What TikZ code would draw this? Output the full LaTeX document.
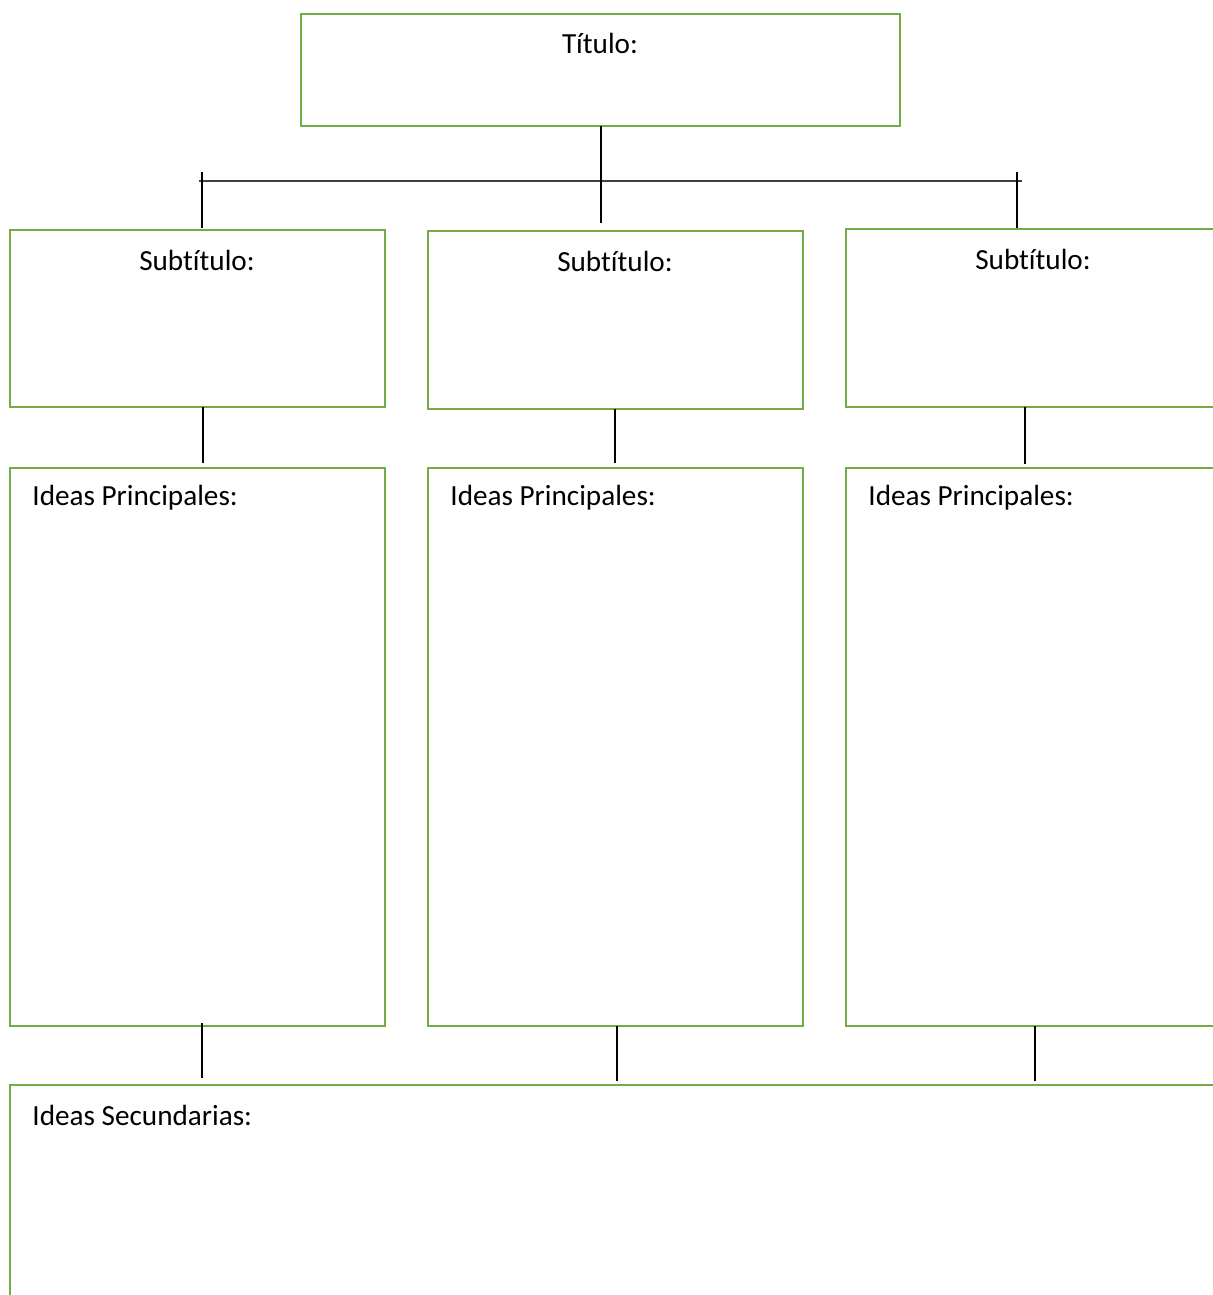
\documentclass[tikz,border=0pt]{standalone}
\usepackage{fontspec}
\setmainfont{Carlito}[Ligatures=NoCommon]
\definecolor{boxgreen}{HTML}{70AD47}
\definecolor{linegray}{HTML}{404040}
\begin{document}
\begin{tikzpicture}[x=0.5pt,y=-0.5pt,
  box/.style={draw=boxgreen, line width=1.1pt, anchor=north west, inner sep=0pt, outer sep=0pt},
  lbl/.style={inner sep=0pt, font=\fontsize{14.6}{17}\selectfont, text=black},
  link/.style={draw=black, line width=0.65pt},
  bar/.style={draw=linegray, line width=0.75pt}]
\useasboundingbox (0,0) rectangle (1213,1295);
\clip (0,0) rectangle (1213,1295);

% title
\node[box, minimum width=299.5pt, minimum height=56pt] (title) at (301,14) {};
\node[lbl] (titletext) at (600,43) {Título:};

% distribution bar
\coordinate (barL) at (199,181);
\coordinate (barR) at (1022,181);
\coordinate (tickL) at (202,172);
\coordinate (tickR) at (1017,172);
\coordinate (titleDrop) at (601,223);
\draw[bar] (barL) -- (barR);
\draw[link] (title.south -| titleDrop) -- (titleDrop);

% subtitle boxes
\node[box, minimum width=187.5pt, minimum height=88.5pt] (sub1) at (10,230) {};
\node[box, minimum width=187.5pt, minimum height=89pt] (sub2) at (428,231) {};
\node[box, minimum width=187.5pt, minimum height=89pt] (sub3) at (846,229) {};
\node[lbl] (sub1text) at (197,260) {Subtítulo:};
\node[lbl] (sub2text) at (615,261) {Subtítulo:};
\node[lbl] (sub3text) at (1033,259) {Subtítulo:};

\coordinate (tickLend) at (202,228);
\coordinate (tickRend) at (1017,228);
\draw[link] (tickL) -- (tickLend);
\draw[link] (tickR) -- (tickRend);

% main ideas boxes
\node[box, minimum width=187.5pt, minimum height=279pt] (main1) at (10,468) {};
\node[box, minimum width=187.5pt, minimum height=279pt] (main2) at (428,468) {};
\node[box, minimum width=187.5pt, minimum height=279pt] (main3) at (846,468) {};
\node[lbl, anchor=west] (main1text) at (32,498) {Ideas Principales:};
\node[lbl, anchor=west] (main2text) at (450,498) {Ideas Principales:};
\node[lbl, anchor=west] (main3text) at (868,498) {Ideas Principales:};

\coordinate (m1top) at (203,463);
\coordinate (m2top) at (615,463);
\coordinate (m3top) at (1025,464);
\draw[link] (sub1.south -| m1top) -- (m1top);
\draw[link] (sub2.south -| m2top) -- (m2top);
\draw[link] (sub3.south -| m3top) -- (m3top);

% secondary ideas box
\node[box, minimum width=610pt, minimum height=120pt] (second) at (10,1085) {};
\node[lbl, anchor=west] (secondtext) at (32,1115) {Ideas Secundarias:};

\coordinate (s1top) at (202,1078);
\coordinate (s2top) at (617,1081);
\coordinate (s3top) at (1035,1081);
\coordinate (m1drop) at (202,1023);
\draw[link] (m1drop) -- (s1top);
\draw[link] (main2.south -| s2top) -- (s2top);
\draw[link] (main3.south -| s3top) -- (s3top);
\end{tikzpicture}
\end{document}
